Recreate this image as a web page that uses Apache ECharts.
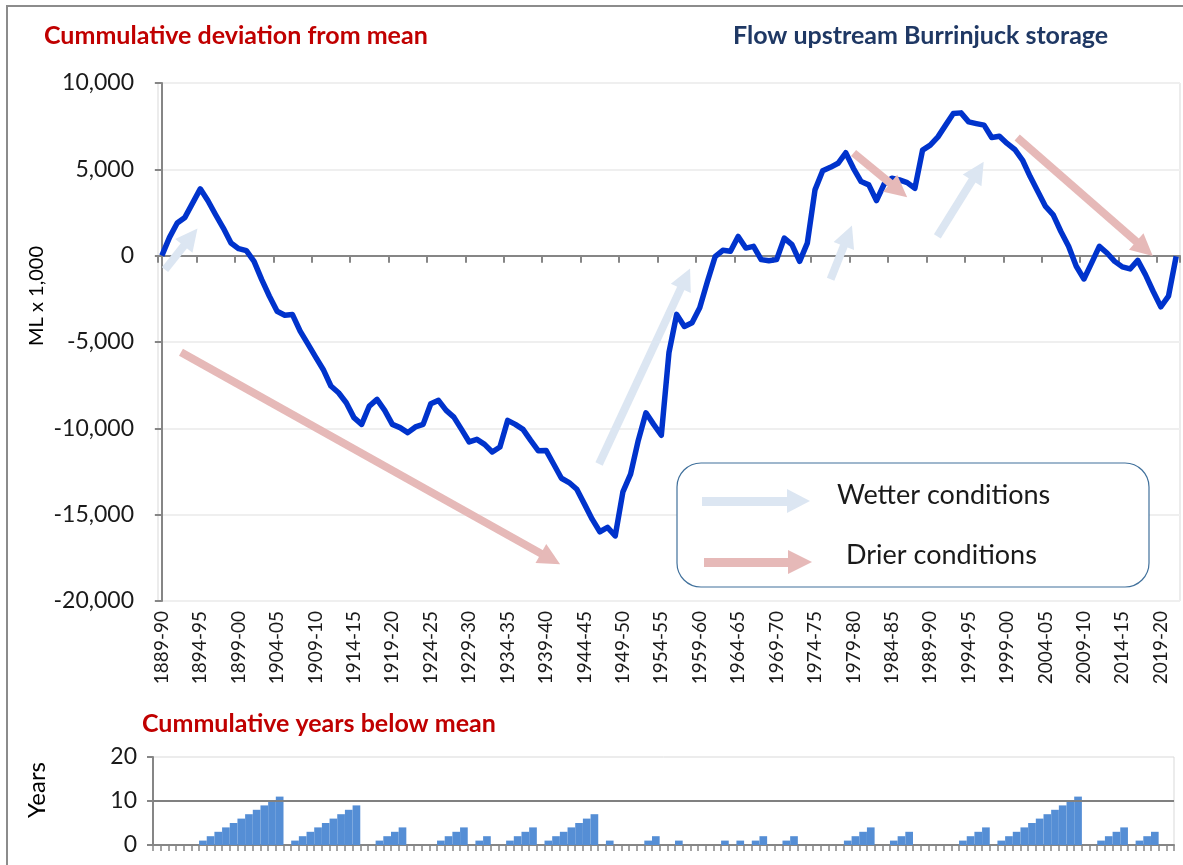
<!DOCTYPE html>
<html>
<head>
<meta charset="utf-8">
<script src="https://cdn.jsdelivr.net/npm/echarts@6/dist/echarts.min.js"></script>
<style>
html,body{margin:0;padding:0;background:#fff;}
#c{width:1183px;height:865px;}
</style>
</head>
<body>
<div id="c"></div>
<script>
// ---- data ----
var firstYear = 1889;
var categories = [];
for (var y = firstYear; y <= 2021; y++) {
  categories.push(y + '-' + String((y + 1) % 100).padStart(2, '0'));
}
var deviation = [
  0, 1060, 1890, 2215, 3045, 3870, 3180, 2370, 1600, 730,
  405, 290, -330, -1390, -2350, -3220, -3450, -3410, -4370, -5110,
  -5860, -6590, -7550, -7940, -8520, -9380, -9770, -8710, -8325, -8960,
  -9770, -9960, -10250, -9920, -9770, -8575, -8380, -8960, -9350, -10060,
  -10790, -10640, -10930, -11370, -11080, -9540, -9770, -10060, -10700, -11300,
  -11280, -12080, -12890, -13140, -13530, -14390, -15260, -15990, -15740, -16230,
  -13680, -12650, -10700, -9100, -9770, -10400, -5600, -3400, -4100, -3880,
  -3020, -1500, -60, 310, 250, 1115, 440, 540, -230, -290,
  -230, 1020, 635, -330, 730, 3810, 4920, 5115, 5350, 5960,
  5060, 4290, 4100, 3190, 4150, 4480, 4385, 4230, 3900, 6115,
  6400, 6880, 7560, 8230, 8270, 7750, 7650, 7560, 6845, 6920,
  6500, 6150, 5540, 4580, 3710, 2850, 2365, 1400, 540, -615,
  -1350, -420, 540, 155, -330, -650, -770, -270, -1100, -2060,
  -2960, -2350, -40
];
var yearsBelow = [
  0, 0, 0, 0, 0, 0, 1, 2, 3, 4,
  5, 6, 7, 8, 9, 10, 11, 0, 1, 2,
  3, 4, 5, 6, 7, 8, 9, 0, 0, 1,
  2, 3, 4, 0, 0, 0, 0, 1, 2, 3,
  4, 0, 1, 2, 0, 0, 1, 2, 3, 4,
  0, 1, 2, 3, 4, 5, 6, 7, 0, 1,
  0, 0, 0, 0, 1, 2, 0, 0, 1, 0,
  0, 0, 0, 0, 1, 0, 1, 0, 1, 2,
  0, 0, 1, 2, 0, 0, 0, 0, 0, 0,
  1, 2, 3, 4, 0, 0, 1, 2, 3, 0,
  0, 0, 0, 0, 0, 1, 2, 3, 4, 0,
  1, 2, 3, 4, 5, 6, 7, 8, 9, 10,
  11, 0, 0, 1, 2, 3, 4, 0, 1, 2,
  3, 0, 0
];
var devTicks = [-20000, -15000, -10000, -5000, 0, 5000, 10000];
var yearTicks = [0, 10, 20];
// annotation arrows: [tailIndex, tailValue, headIndex, headValue] (category index units)
var wetterArrows = [
  [0.41, -809, 3.75, 1069],
  [56.90, -12065, 68.14, -1318],
  [87.03, -1370, 89.28, 1156],
  [100.92, 1116, 106.2, 4901]
];
var drierArrows = [
  [2.49, -5589, 50.58, -17560],
  [90.02, 5947, 95.89, 3792],
  [111.31, 6838, 127.88, 399]
];

// ---- chart ----
var FONT = 'Lato';
var chart = echarts.init(document.getElementById('c'), null, {renderer: 'canvas'});
function toLines(arr) {
  return arr.map(function (a) { return {coords: [[a[0], a[1]], [a[2], a[3]]]}; });
}
var fmt = function (v) { return v.toLocaleString('en-US'); };

var option = {
  animation: false,
  backgroundColor: '#ffffff',
  textStyle: {fontFamily: FONT},
  grid: [
    {left: 158, top: 83, width: 1022, height: 518, show: true, borderColor: '#d9d9d9', borderWidth: 1, containLabel: false},
    {left: 153, top: 757, width: 1021, height: 88, show: true, borderColor: '#d9d9d9', borderWidth: 1, containLabel: false}
  ],
  xAxis: [
    {type: 'category', gridIndex: 0, data: categories, boundaryGap: true,
     axisLine: {onZero: true, lineStyle: {color: '#868686', width: 2}},
     axisTick: {show: true, interval: 4, length: 7, lineStyle: {color: '#868686', width: 2}},
     axisLabel: {show: false}, splitLine: {show: false}},
    {type: 'category', gridIndex: 0, data: categories, boundaryGap: true, position: 'bottom',
     axisLine: {show: false, onZero: false}, axisTick: {show: false},
     axisLabel: {show: true, interval: 4, rotate: 90, fontSize: 19, color: '#1a1a1a', margin: 10, fontFamily: FONT},
     splitLine: {show: false}},
    {type: 'value', gridIndex: 0, min: -0.5, max: categories.length - 0.5, show: false},
    {type: 'category', gridIndex: 1, data: categories, boundaryGap: true,
     axisLine: {onZero: true, lineStyle: {color: '#868686', width: 2}},
     axisTick: {show: true, interval: 0, length: 6, lineStyle: {color: '#868686', width: 1.5}},
     axisLabel: {show: false}, splitLine: {show: false}}
  ],
  yAxis: [
    {type: 'value', gridIndex: 0, min: devTicks[0], max: devTicks[devTicks.length - 1], interval: 5000,
     axisLine: {show: true, lineStyle: {color: '#868686', width: 2}},
     axisTick: {show: true, length: 7, lineStyle: {color: '#868686', width: 2}},
     axisLabel: {fontSize: 23, color: '#1a1a1a', margin: 24, formatter: fmt, fontFamily: FONT},
     splitLine: {show: true, lineStyle: {color: '#efefef', width: 2}}},
    {type: 'value', gridIndex: 1, min: yearTicks[0], max: yearTicks[yearTicks.length - 1], interval: 10,
     axisLine: {show: true, lineStyle: {color: '#868686', width: 2}},
     axisTick: {show: true, length: 6, lineStyle: {color: '#868686', width: 2}},
     axisLabel: {fontSize: 23, color: '#1a1a1a', margin: 16, fontFamily: FONT},
     splitLine: {show: false}}
  ],
  series: [
    {type: 'line', xAxisIndex: 0, yAxisIndex: 0, data: deviation, showSymbol: false, symbol: 'none',
     lineStyle: {color: '#0033cc', width: 5.5, join: 'round'}, z: 3, silent: true},
    {type: 'lines', coordinateSystem: 'cartesian2d', xAxisIndex: 2, yAxisIndex: 0, data: toLines(wetterArrows),
     symbol: ['none', 'triangle'], symbolSize: 22,
     lineStyle: {color: '#dce6f2', width: 8, opacity: 1, curveness: 0}, z: 4, silent: true},
    {type: 'lines', coordinateSystem: 'cartesian2d', xAxisIndex: 2, yAxisIndex: 0, data: toLines(drierArrows),
     symbol: ['none', 'triangle'], symbolSize: 22,
     lineStyle: {color: '#e6b9b8', width: 8, opacity: 1, curveness: 0}, z: 4, silent: true},
    {type: 'bar', xAxisIndex: 3, yAxisIndex: 1, data: yearsBelow, barCategoryGap: '0%',
     itemStyle: {color: '#558ed5'}, silent: true,
     markLine: {silent: true, symbol: 'none', label: {show: false},
       lineStyle: {color: '#808080', width: 2, type: 'solid'}, data: [{yAxis: 10}]}}
  ],
  graphic: [
    {type: 'rect', shape: {x: 7, y: 6, width: 1200, height: 900}, style: {fill: 'none', stroke: '#8c8c8c', lineWidth: 2}, silent: true},
    {type: 'text', left: 44, top: 23, style: {text: 'Cummulative deviation from mean', fill: '#c00000', font: 'bold 25px ' + FONT}},
    {type: 'text', left: 733, top: 23, style: {text: 'Flow upstream Burrinjuck storage', fill: '#1f3864', font: 'bold 25px ' + FONT}},
    {type: 'text', left: 142, top: 711, style: {text: 'Cummulative years below mean', fill: '#c00000', font: 'bold 25px ' + FONT}},
    {type: 'text', x: 37, y: 296, rotation: Math.PI / 2, style: {text: 'ML x 1,000', fill: '#000', font: '20px ' + FONT, align: 'center', verticalAlign: 'middle'}},
    {type: 'text', x: 37, y: 790, rotation: Math.PI / 2, style: {text: 'Years', fill: '#000', font: '24px ' + FONT, align: 'center', verticalAlign: 'middle'}},
    {type: 'rect', shape: {x: 677, y: 463, width: 472, height: 124, r: 24}, style: {fill: '#fff', stroke: '#41719c', lineWidth: 1.2}, z: 10},
    {type: 'rect', shape: {x: 702, y: 497, width: 86, height: 9}, style: {fill: '#dce6f2'}, z: 11},
    {type: 'polygon', shape: {points: [[787, 489], [810, 501], [787, 513]]}, style: {fill: '#dce6f2'}, z: 11},
    {type: 'rect', shape: {x: 704, y: 558, width: 85, height: 9}, style: {fill: '#e6b9b8'}, z: 11},
    {type: 'polygon', shape: {points: [[788, 550], [812, 562], [788, 574]]}, style: {fill: '#e6b9b8'}, z: 11},
    {type: 'text', x: 837, y: 495, style: {text: 'Wetter conditions', fill: '#1a1a1a', font: '27px ' + FONT, verticalAlign: 'middle'}, z: 11},
    {type: 'text', x: 846, y: 555, style: {text: 'Drier conditions', fill: '#1a1a1a', font: '27px ' + FONT, verticalAlign: 'middle'}, z: 11}
  ]
};
chart.setOption(option);
</script>
</body>
</html>
